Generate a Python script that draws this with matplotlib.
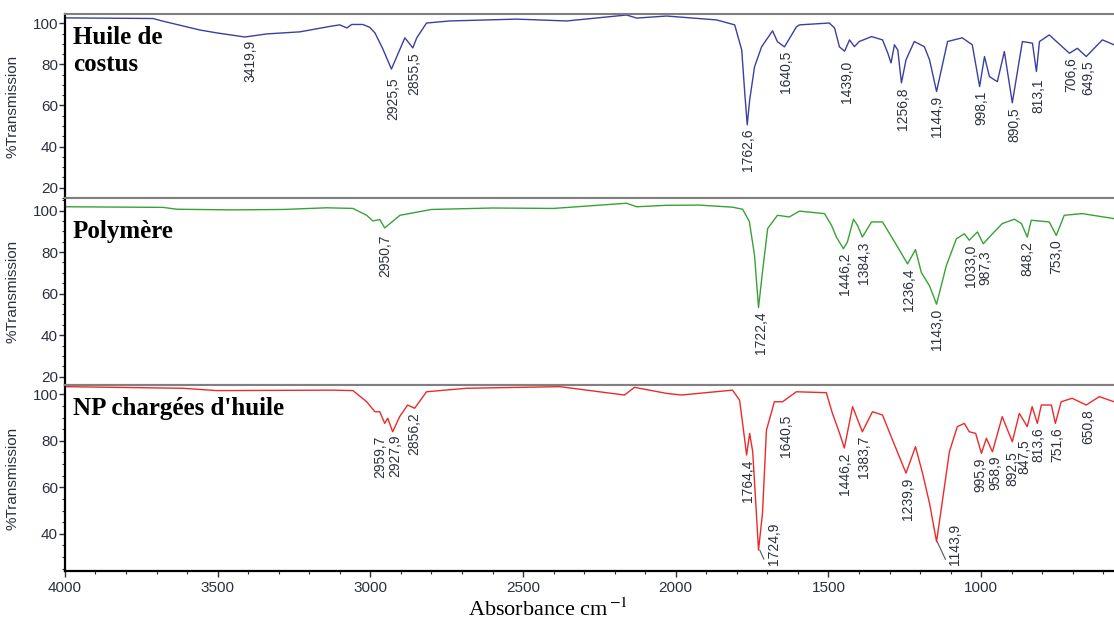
import numpy as np
import matplotlib
matplotlib.use("Agg")
import matplotlib.pyplot as plt
from matplotlib.ticker import MultipleLocator

plt.rcParams['font.family'] = ['Liberation Sans', 'DejaVu Sans']
plt.rcParams['mathtext.fontset'] = 'stix'

# ---- spectra (wavenumber cm-1, %T) ----
wn_huile = [4000, 3712, 3679, 3558, 3503, 3411, 3339, 3231, 3123, 3100, 3077, 3061, 3025, 3002,
            2985, 2960, 2931, 2887, 2861, 2848, 2816, 2740, 2521, 2357, 2161, 2128, 2030, 1866,
            1807, 1784, 1774, 1766, 1758, 1742, 1719, 1683, 1667, 1644, 1605, 1595, 1497, 1480,
            1464, 1447, 1431, 1415, 1399, 1359, 1323, 1306, 1295, 1284, 1273, 1261, 1246, 1219,
            1186, 1169, 1146, 1110, 1062, 1029, 1005, 989, 973, 957, 947, 924, 898, 865, 832,
            819, 809, 777, 711, 685, 656, 603, 565]
t_huile = [102.6, 102.3, 101.0, 96.7, 95.3, 93.3, 94.8, 95.8, 98.7, 99.2, 97.7, 99.4, 99.4, 98.0,
           95.3, 87.8, 77.7, 92.9, 88.0, 92.9, 100.1, 101.1, 102.0, 101.1, 104.0, 102.5, 103.5, 101.6,
           99.2, 87.0, 66.0, 50.6, 62.6, 78.8, 88.5, 96.3, 91.0, 88.5, 98.2, 99.2, 100.1, 97.7,
           88.5, 86.4, 91.9, 88.6, 91.1, 93.5, 91.9, 85.6, 80.7, 89.5, 87.0, 71.0, 82.2, 91.1,
           88.6, 82.2, 66.8, 91.1, 92.9, 89.5, 69.2, 83.8, 74.1, 72.5, 71.6, 86.2, 61.3, 91.1, 90.3,
           76.5, 91.1, 94.3, 85.4, 87.8, 83.8, 91.9, 89.5]

wn_poly = [4000, 3679, 3633, 3450, 3286, 3143, 3057, 3012, 2992, 2969, 2953, 2903, 2800, 2600,
           2400, 2161, 2128, 2030, 1922, 1814, 1781, 1759, 1742, 1729, 1716, 1699, 1667, 1628,
           1595, 1513, 1490, 1474, 1451, 1438, 1418, 1405, 1389, 1359, 1323, 1277, 1241, 1215,
           1196, 1169, 1146, 1114, 1081, 1055, 1039, 1012, 993, 963, 931, 891, 868, 849, 836,
           777, 754, 728, 669, 565]
t_poly = [101.8, 101.5, 100.6, 100.3, 100.5, 101.3, 101.0, 97.7, 95.0, 95.6, 91.6, 97.7, 100.5, 101.2,
          101.0, 103.5, 101.8, 102.5, 102.6, 101.6, 100.6, 94.7, 78.3, 53.3, 70.4, 91.3, 97.7, 96.9,
          99.7, 98.5, 92.9, 87.2, 81.6, 84.8, 95.8, 92.9, 87.2, 94.5, 94.5, 83.3, 74.3, 81.2,
          70.2, 63.7, 54.9, 73.5, 86.4, 88.8, 85.7, 89.7, 84.0, 88.8, 93.7, 95.8, 93.7, 87.2, 95.3,
          94.5, 88.0, 97.7, 98.5, 96.1]

wn_np = [4000, 3614, 3503, 3123, 3057, 3012, 2985, 2969, 2953, 2943, 2927, 2904, 2878, 2855,
         2816, 2685, 2380, 2168, 2135, 2030, 1981, 1814, 1791, 1781, 1768, 1758, 1748, 1736,
         1729, 1716, 1703, 1677, 1650, 1605, 1507, 1487, 1464, 1448, 1421, 1389, 1356, 1323,
         1290, 1246, 1215, 1192, 1169, 1146, 1114, 1104, 1078, 1055, 1039, 1018, 999, 983, 963,
         931, 898, 875, 849, 833, 816, 803, 770, 757, 738, 702, 656, 613, 565]
t_np = [103.3, 102.6, 101.6, 101.8, 101.6, 96.8, 92.5, 92.5, 87.5, 89.7, 83.9, 90.4, 95.4, 94.0,
        101.1, 102.6, 103.3, 99.7, 103.0, 100.4, 99.7, 101.8, 97.5, 87.5, 73.9, 83.2, 75.3, 48.8,
        33.0, 48.8, 84.6, 96.8, 96.8, 101.1, 100.7, 91.8, 83.4, 76.9, 94.7, 83.9, 92.5, 91.1,
        80.3, 66.1, 77.5, 66.1, 53.1, 36.6, 66.0, 75.3, 86.1, 87.5, 83.9, 83.2, 74.6, 81.1, 75.3,
        90.4, 79.6, 91.8, 86.1, 94.7, 87.5, 95.4, 95.4, 87.5, 96.8, 98.3, 95.4, 99.0, 96.8]

peaks_huile = ["3419,9", "2925,5", "2855,5", "1762,6", "1640,5", "1439,0", "1256,8", "1144,9",
               "998,1", "890,5", "813,1", "706,6", "649,5"]
peaks_poly = ["2950,7", "1722,4", "1446,2", "1384,3", "1236,4", "1143,0", "1033,0", "987,3",
              "848,2", "753,0"]
peaks_np = ["2959,7", "2927,9", "2856,2", "1764,4", "1724,9", "1640,5", "1446,2", "1383,7",
            "1239,9", "1143,9", "995,9", "958,9", "892,5", "847,5", "813,6", "751,6", "650,8"]

names = ["Huile de\ncostus", "Polymère", "NP chargées d'huile"]
colors = ["#3c3f9e", "#37a237", "#ec2a2a"]
ylims = [(15, 104.5), (16, 106), (24, 104)]

# label nudges in points (dx, dy), default (0, -3)
nudge = {
    (0, "3419,9"): (6, -2), (0, "2925,5"): (0, -6), (0, "1439,0"): (0, -7), (0, "813,1"): (0, -5),
    (1, "2950,7"): (0, -5), (1, "987,3"): (0, -5),
    (2, "2959,7"): (-2, -9), (2, "2927,9"): (2, -2), (2, "1640,5"): (0, -9),
    (2, "995,9"): (-1.5, -3), (2, "958,9"): (1.2, -3),
    (2, "892,5"): (-1.5, -7), (2, "847,5"): (-2.5, -9), (2, "813,6"): (0.5, -3),
}
leader = {(2, "1724,9"): (10, -11), (2, "1143,9"): (13, -17)}

fig = plt.figure(figsize=(11.14, 6.21), dpi=100)
boxes = [[0.0583, 0.6812, 0.9417, 0.2963],
         [0.0583, 0.3800, 0.9417, 0.3011],
         [0.0583, 0.0805, 0.9417, 0.2995]]

data = [(wn_huile, t_huile, peaks_huile), (wn_poly, t_poly, peaks_poly), (wn_np, t_np, peaks_np)]
text_col = "#2b313c"
name_y = [0.935, 0.885, 0.935]

for i, (wn, tt, peaks) in enumerate(data):
    ax = fig.add_axes(boxes[i])
    ax.plot(wn, tt, color=colors[i], lw=1.0)
    ax.set_xlim(4000, 565)
    ax.set_ylim(*ylims[i])
    ax.yaxis.set_major_locator(MultipleLocator(20))
    ax.yaxis.set_minor_locator(MultipleLocator(5))
    ax.tick_params(axis='y', which='major', length=4, width=1, labelsize=11, colors=text_col, pad=1)
    ax.tick_params(axis='y', which='minor', length=2, width=0.8, colors=text_col)
    ax.set_ylabel("%Transmission", fontsize=11, color=text_col)
    ax.yaxis.set_label_coords(-0.043, 0.5)
    ax.spines['right'].set_visible(False)
    ax.spines['left'].set_linewidth(1.6)
    ax.spines['left'].set_color('black')
    ax.spines['top'].set_color('#808080')
    ax.spines['top'].set_linewidth(1.5)
    if i < 2:
        ax.spines['bottom'].set_color('#808080')
        ax.spines['bottom'].set_linewidth(1.5)
        ax.set_xticks([])
    else:
        ax.spines['bottom'].set_linewidth(1.6)
        ax.xaxis.set_major_locator(MultipleLocator(500))
        ax.xaxis.set_minor_locator(MultipleLocator(100))
        ax.tick_params(axis='x', which='major', length=4, width=1, labelsize=11, colors=text_col)
        ax.tick_params(axis='x', which='minor', length=2, width=0.8, colors=text_col)

    wn_a = np.array(wn, dtype=float)
    t_a = np.array(tt, dtype=float)
    for lab in peaks:
        p = float(lab.replace(',', '.'))
        sel = np.abs(wn_a - p) <= 12
        ymin = t_a[sel].min() if sel.any() else np.interp(p, wn_a[::-1], t_a[::-1])
        if (i, lab) in leader:
            dx, dy = leader[(i, lab)]
            ax.annotate(lab, xy=(p, ymin), xytext=(dx, dy), textcoords='offset points',
                        rotation=90, ha='center', va='bottom', fontsize=10, color=text_col,
                        arrowprops=dict(arrowstyle='-', color='#555555', lw=0.8,
                                        shrinkA=0, shrinkB=0, relpos=(0, 0)))
        else:
            dx, dy = nudge.get((i, lab), (0, -3))
            ax.annotate(lab, xy=(p, ymin), xytext=(dx, dy), textcoords='offset points',
                        rotation=90, ha='center', va='top', fontsize=10, color=text_col)

    ax.text(0.0075, name_y[i], names[i], transform=ax.transAxes,
            ha='left', va='top', fontsize=18, fontweight='bold', family='Liberation Serif',
            linespacing=1.2, zorder=5,
            bbox=dict(facecolor='white', edgecolor='none', pad=0.5) if i == 1 else None)

fig.text(0.492, 0.008, r"Absorbance cm$^{\,\mathrm{-1}}$", ha='center', va='baseline',
         fontsize=16, family='Liberation Serif')

fig.savefig("out.png", dpi=100)
